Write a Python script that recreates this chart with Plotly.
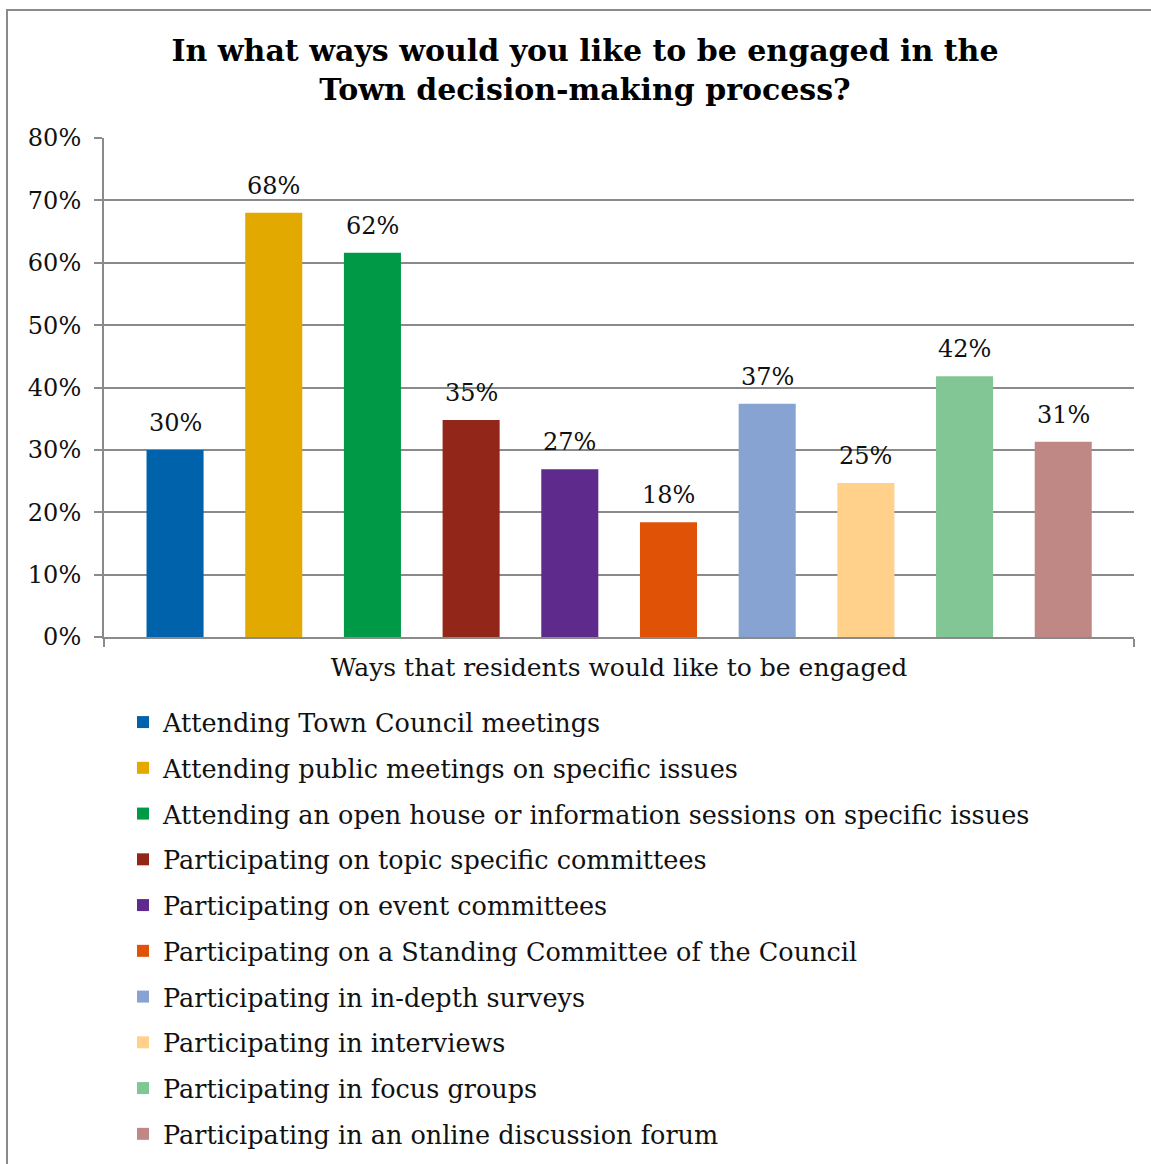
import plotly.graph_objects as go

# Survey responses: share of residents choosing each engagement option
options = [
    "Attending Town Council meetings",
    "Attending public meetings on specific issues",
    "Attending an open house or information sessions on specific issues",
    "Participating on topic specific committees",
    "Participating on event committees",
    "Participating on a Standing Committee of the Council",
    "Participating in in-depth surveys",
    "Participating in interviews",
    "Participating in focus groups",
    "Participating in an online discussion forum",
]
shares = [0.30, 0.68, 0.616, 0.348, 0.269, 0.184, 0.374, 0.247, 0.418, 0.313]
colors = [
    "#0062AB", "#E2A900", "#009A46", "#922719", "#5E2A8C",
    "#E05206", "#86A3D2", "#FFD18A", "#83C695", "#C08884",
]
axis_title = "Ways that residents would like to be engaged"
y_ticks = [0, 0.1, 0.2, 0.3, 0.4, 0.5, 0.6, 0.7, 0.8]

FONT = "DejaVu Serif"
GRID = "#8a8a8a"
TEXT = "#111111"

W, H = 1151, 1164
ML, MR, MT, MB = 104, 17, 138, 527
PW, PH = W - ML - MR, H - MT - MB

# bars sit on integer slots; the axis leaves a bit of room at either end
X_LO, X_HI = -0.72, 9.717
BAR_W = 0.578


def px_x(x):
    return (x - ML) / PW


def px_y(y):
    return (H - MB - y) / PH


fig = go.Figure()
for i, (name, val, col) in enumerate(zip(options, shares, colors)):
    fig.add_trace(go.Bar(
        x=[i],
        y=[val],
        width=BAR_W,
        name=name,
        legendgroup=name,
        marker=dict(color=col, line=dict(width=0)),
        hoverinfo="name+y",
    ))
    fig.add_annotation(
        x=i, y=val,
        text=f"{val:.0%}",
        showarrow=False,
        xanchor="center",
        yanchor="bottom",
        yshift=11,
        font=dict(family=FONT, size=24, color=TEXT),
    )

fig.update_layout(
    width=W,
    height=H,
    margin=dict(l=ML, r=MR, t=MT, b=MB, pad=0, autoexpand=False),
    paper_bgcolor="white",
    plot_bgcolor="white",
    barmode="overlay",
    font=dict(family=FONT, color=TEXT),
    title=dict(
        text="<b>In what ways would you like to be engaged in the<br>Town decision-making process?</b>",
        font=dict(family=FONT, size=30, color="black"),
        x=px_x(585),
        xref="paper",
        xanchor="center",
        y=1 - 61 / H,
        yref="container",
        yanchor="top",
    ),
    showlegend=True,
    legend=dict(
        x=px_x(123),
        xanchor="left",
        y=px_y(699),
        yanchor="top",
        font=dict(family=FONT, size=25.5, color=TEXT),
        tracegroupgap=9.6,
        bgcolor="rgba(0,0,0,0)",
        itemclick=False,
    ),
)

fig.update_xaxes(
    range=[X_LO, X_HI],
    tickvals=[X_LO, X_HI],
    showticklabels=False,
    showline=True,
    linecolor=GRID,
    linewidth=2,
    ticks="outside",
    ticklen=8,
    tickcolor=GRID,
    tickwidth=2,
    showgrid=False,
    zeroline=False,
    title=dict(
        text=axis_title,
        font=dict(family=FONT, size=25, color=TEXT),
        standoff=12,
    ),
)

fig.update_yaxes(
    range=[0, 0.8],
    tickvals=y_ticks,
    tickformat=".0%",
    showline=True,
    linecolor=GRID,
    linewidth=2,
    ticks="outside",
    ticklen=8,
    tickcolor=GRID,
    tickwidth=2,
    ticklabelstandoff=8,
    showgrid=True,
    gridcolor=GRID,
    gridwidth=1.5,
    zeroline=False,
    tickfont=dict(family=FONT, size=24, color=TEXT),
)

# Outer chart frame (runs off the right and bottom edges)
fig.add_shape(
    type="rect",
    xref="paper", yref="paper",
    x0=px_x(7), x1=px_x(1170),
    y0=px_y(1185), y1=px_y(10),
    line=dict(color="#8a8a8a", width=2),
    fillcolor="rgba(0,0,0,0)",
    layer="below",
)

fig.write_html("out.html")
